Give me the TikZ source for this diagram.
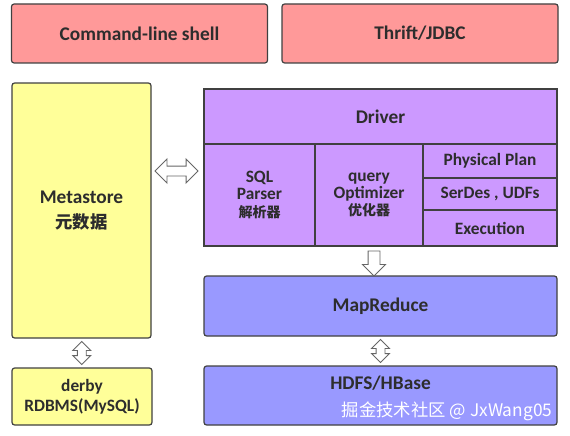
\documentclass[tikz,border=0pt]{standalone}
\usepackage{fontspec}
\setmainfont{Carlito}
\newfontfamily\cjk{Noto Sans CJK SC}
\usetikzlibrary{positioning, shapes.arrows, calc}
\definecolor{shellpink}{RGB}{255,153,153}
\definecolor{metayellow}{RGB}{255,255,153}
\definecolor{driverviolet}{RGB}{204,153,255}
\definecolor{mrblue}{RGB}{153,153,255}
\definecolor{edgegray}{RGB}{64,64,64}
\definecolor{inkgray}{RGB}{45,45,45}
\newcommand{\pxu}{0.75pt}

\begin{document}
\begin{tikzpicture}[x=0.75pt,y=-0.75pt,
  box/.style={draw=edgegray, line width=0.9pt, rounded corners=2pt, inner sep=0pt,
    align=center, text=inkgray, font=\bfseries\fontsize{14.5}{17}\selectfont},
  cell/.style={draw=edgegray, line width=0.9pt, fill=driverviolet, inner sep=0pt,
    align=center, text=inkgray, font=\bfseries\fontsize{13}{12.8}\selectfont},
  darrow/.style={double arrow, draw=edgegray!80, line width=0.7pt, fill=white},
  sarrow/.style={single arrow, draw=edgegray!80, line width=0.7pt, fill=white}]
  \useasboundingbox (0,0) rectangle (570,435);

  % top layer
  \node[box, fill=shellpink, minimum width=256*\pxu, minimum height=59*\pxu] (shell) at (139.5,33.5) {Command-line shell};
  \node[box, fill=shellpink, minimum width=276*\pxu, minimum height=59*\pxu] (thrift) at (420,33.5) {Thrift/JDBC};

  % metastore
  \node[box, fill=metayellow, minimum width=139*\pxu, minimum height=255*\pxu] (meta) at (81.5,210.5)
    {\rule{0pt}{8pt}Metastore\\[2pt]{\cjk\bfseries\fontsize{13}{15}\selectfont 元数据}};
  \node[box, fill=metayellow, minimum width=140*\pxu, minimum height=57*\pxu, font=\bfseries\fontsize{13}{15}\selectfont] (derby) at (82,396.5)
    {derby\\RDBMS(MySQL)};

  % driver
  \node[cell, minimum width=353*\pxu, minimum height=55*\pxu, font=\bfseries\fontsize{14.5}{17}\selectfont] (driver) at (380.5,116.5) {Driver};
  \node[cell, minimum width=111*\pxu, minimum height=102*\pxu] (parser) at (259.5,195) {SQL\\Parser\\{\cjk\bfseries\fontsize{10.5}{12.8}\selectfont 解析器}};
  \node[cell, minimum width=108*\pxu, minimum height=102*\pxu] (optim) at (369,195) {query\\Optimizer\\{\cjk\bfseries\fontsize{10.5}{12.8}\selectfont 优化器}};
  \node[cell, minimum width=134*\pxu, minimum height=34*\pxu] (plan) at (490,161) {Physical Plan};
  \node[cell, minimum width=134*\pxu, minimum height=32*\pxu] (serdes) at (490,194) {SerDes , UDFs};
  \node[cell, minimum width=134*\pxu, minimum height=36*\pxu] (exec) at (490,228) {Execution};

  % lower layers
  \node[box, fill=mrblue, minimum width=353*\pxu, minimum height=60*\pxu] (mapred) at (380.5,306) {MapReduce};
  \node[box, fill=mrblue, minimum width=353*\pxu, minimum height=59*\pxu] (hdfs) at (380.5,395.5) {HDFS/HBase\\[2pt]};
  \node[anchor=east, text=white, font=\cjk\fontsize{13}{15}\selectfont] (mark) at (557,411) {掘金技术社区 @ JxWang05};

  % arrows
  \node[darrow, minimum height=43*\pxu, inner sep=4.5*\pxu, double arrow head extend=7*\pxu] (metadrv)
    at (176.5,171) {};
  \node[darrow, shape border rotate=90, minimum height=23*\pxu, inner sep=4*\pxu, double arrow head extend=4.5*\pxu] (metadb)
    at ($(meta.south)!0.5!(derby.north)$) {};
  \node[sarrow, shape border rotate=270, minimum height=25*\pxu, inner sep=5.5*\pxu, single arrow head extend=5.5*\pxu] (drvmr)
    at (374,260.5) {};
  \node[darrow, shape border rotate=90, minimum height=23*\pxu, inner sep=4*\pxu, double arrow head extend=4.5*\pxu] (mrfs)
    at ($(mapred.south)!0.5!(hdfs.north)$ -| drvmr) {};
\end{tikzpicture}
\end{document}
